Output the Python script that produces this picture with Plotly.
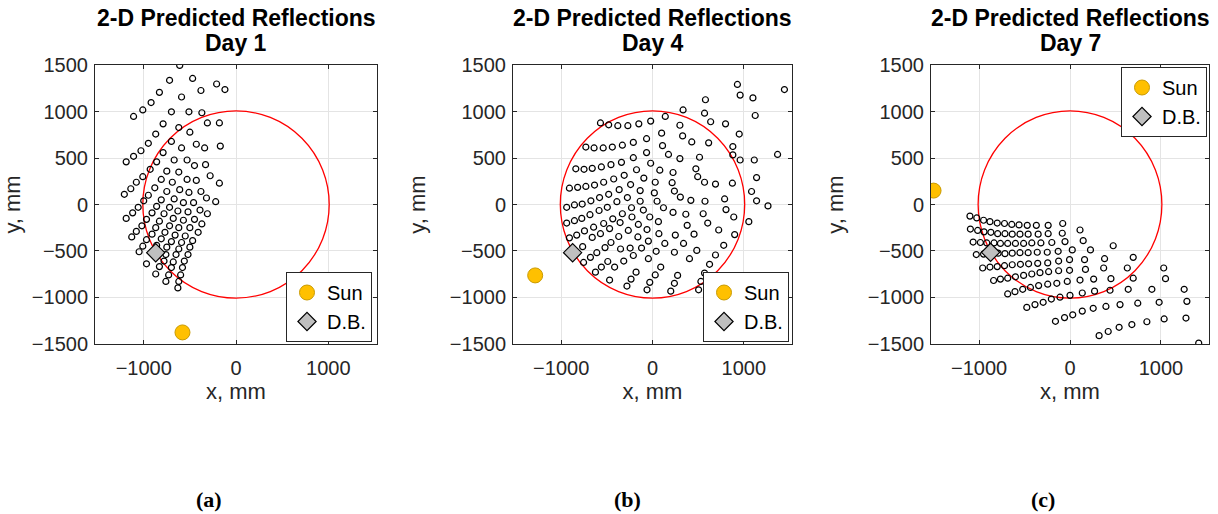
import plotly.graph_objects as go

# ---------------- data (mm) ----------------
PANEL_TITLES = ["Day 1", "Day 4", "Day 7"]
SUB_LABELS = ["(a)", "(b)", "(c)"]
DISH_RADIUS = 1010

SUN = [(-580, -1380), (-1285, -765), (-1500, 150)]
DB = [(-870, -520), (-875, -520), (-873, -516)]

DAY1_PTS = [
    (-610, 1500), (-720, 1340), (-470, 1360), (-210, 1300), (-120, 1240), (-830, 1210),
    (-380, 1230), (-590, 1160), (-920, 1100), (-1010, 1020), (-700, 1000), (-510, 1000),
    (-370, 990), (-1110, 950), (-790, 870), (-310, 880), (-180, 880), (-620, 830),
    (-870, 760), (-500, 780), (-700, 680), (-950, 660), (-430, 650), (-590, 610),
    (-340, 610), (-170, 630), (-1030, 580), (-790, 560), (-1110, 520), (-1190, 460),
    (-860, 460), (-670, 480), (-530, 480), (-450, 420), (-330, 430), (-930, 380),
    (-750, 360), (-620, 350), (-1010, 300), (-280, 310), (-1080, 240), (-810, 270),
    (-690, 240), (-530, 270), (-430, 260), (-180, 230), (-1140, 170), (-1210, 110),
    (-880, 180), (-950, 100), (-750, 140), (-610, 160), (-510, 130), (-380, 140),
    (-1000, 40), (-810, 50), (-670, 60), (-570, 20), (-460, 20), (-320, 70),
    (-220, 30), (-1060, -30), (-860, -20), (-720, -30), (-1120, -90), (-910, -90),
    (-780, -100), (-630, -70), (-520, -80), (-390, -60), (-310, -100), (-1190, -150),
    (-970, -160), (-680, -150), (-570, -170), (-450, -160), (-830, -180), (-1020, -230),
    (-870, -250), (-720, -230), (-620, -250), (-500, -250), (-370, -210), (-1080, -290),
    (-1130, -350), (-910, -320), (-770, -300), (-660, -330), (-550, -340), (-410, -300),
    (-970, -380), (-810, -370), (-700, -400), (-590, -410), (-470, -390), (-1010, -450),
    (-860, -440), (-750, -460), (-620, -480), (-500, -460), (-1050, -510), (-760, -540),
    (-650, -540), (-520, -540), (-970, -640), (-780, -610), (-680, -620), (-560, -610),
    (-830, -670), (-700, -680), (-580, -680), (-870, -750), (-730, -760), (-600, -760),
    (-760, -830), (-620, -830), (-630, -900),
]

DAY4_PTS = [
    (930, 1295), (1445, 1240), (960, 1180), (1100, 1150), (580, 1130), (1125, 960),
    (335, 1020), (570, 985), (140, 950), (637, 893), (800, 870),
    (-570, 880), (-480, 860), (-380, 850), (-270, 850), (-150, 870), (-20, 900),
    (300, 855), (100, 770), (950, 760), (330, 740), (430, 675), (615, 665),
    (-730, 620), (-640, 610), (-540, 610), (-440, 620), (-330, 640), (-210, 670), (-65, 710),
    (110, 635), (880, 625), (1370, 540), (175, 540), (300, 495), (515, 510), (880, 535),
    (960, 480), (1115, 480),
    (-840, 385), (-750, 380), (-660, 390), (-560, 405), (-455, 430), (-340, 455),
    (-210, 505), (-65, 560),
    (-20, 445), (80, 370), (225, 345), (475, 385), (495, 300), (570, 240), (690, 220),
    (875, 230), (1140, 290),
    (-910, 176), (-820, 185), (-730, 195), (-635, 210), (-535, 240), (-425, 275),
    (-310, 315), (-175, 375),
    (-95, 285), (-240, 215), (30, 240), (215, 235), (240, 145), (305, 80), (420, 45),
    (575, 35), (790, 60), (1085, 140), (1140, 40), (1265, -15),
    (-365, 160), (-135, 150), (20, 125), (-275, 75), (-480, 110), (-580, 75),
    (-675, 40), (-770, 5), (-855, -5), (-940, -30),
    (-135, 35), (50, 35), (120, -35), (225, -85), (365, -105), (555, -100), (805, -55),
    (-100, -60), (-230, -35), (-390, 30), (-495, -30), (-585, -65), (-685, -110),
    (-775, -150), (-855, -175), (-940, -200),
    (890, -135), (1055, -185), (-30, -135), (65, -185), (-330, -100), (-225, -135),
    (-435, -155), (-535, -205), (-645, -245), (-745, -285), (-830, -330), (-910, -360),
    (-155, -215), (-60, -270), (70, -315), (250, -330), (380, -225), (605, -200),
    (725, -275), (900, -325),
    (-355, -195), (-265, -280), (-470, -260), (-370, -345), (-570, -315), (-660, -355),
    (-765, -455),
    (-160, -350), (-45, -395), (135, -420), (340, -420), (455, -320), (485, -495),
    (690, -545), (780, -440),
    (-455, -410), (-350, -480), (-520, -465), (-610, -520), (-680, -570), (-755, -625),
    (-120, -470), (-245, -470), (40, -505), (240, -515), (405, -585), (625, -645),
    (-210, -550), (-315, -610), (-415, -675), (-625, -730), (-45, -585), (90, -675),
    (275, -765), (570, -740), (-560, -675), (-490, -615),
    (-180, -730), (-235, -805), (-280, -880), (-470, -815), (30, -760), (-30, -840),
    (-60, -920), (240, -850), (200, -935), (530, -830), (505, -920),
]

DAY7_PTS = [
    (-1100, -125), (-1025, -145), (-950, -170), (-880, -185), (-800, -200), (-720, -205),
    (-640, -215), (-560, -220), (-470, -225), (-370, -225), (-240, -225), (-80, -205),
    (-1095, -265), (-1015, -280), (-945, -295), (-870, -300), (-795, -315), (-715, -315),
    (-635, -320), (-550, -320), (-460, -320), (-350, -320), (-240, -315), (-85, -310),
    (110, -275),
    (-1065, -405), (-985, -410), (-915, -415), (-835, -415), (-765, -420), (-685, -420),
    (-600, -420), (-510, -420), (-420, -415), (-320, -415), (-200, -410), (-55, -400),
    (145, -390),
    (-1030, -540), (-950, -535), (-870, -530), (-790, -525), (-715, -530), (-635, -525),
    (-550, -520), (-460, -520), (-360, -515), (-250, -515), (-130, -505), (25, -490),
    (225, -490), (475, -445),
    (-960, -685), (-880, -675), (-800, -670), (-720, -660), (-635, -650), (-545, -645),
    (-455, -640), (-355, -635), (-245, -630), (-125, -610), (-5, -595), (160, -595),
    (380, -585), (695, -570),
    (-840, -820), (-765, -805), (-685, -795), (-600, -780), (-510, -765), (-420, -750),
    (-330, -735), (-235, -725), (-125, -715), (-5, -710), (170, -700), (370, -685),
    (630, -685), (1030, -685),
    (-685, -965), (-605, -940), (-520, -915), (-435, -895), (-345, -875), (-245, -860),
    (-145, -850), (-30, -830), (110, -815), (260, -805), (450, -800), (695, -795),
    (1050, -800),
    (-475, -1110), (-385, -1080), (-295, -1055), (-205, -1020), (-110, -1000), (0, -980),
    (135, -955), (270, -935), (440, -925), (640, -915), (900, -915), (1255, -915),
    (-160, -1260), (-60, -1220), (30, -1190), (135, -1150), (255, -1120), (395, -1100),
    (550, -1080), (745, -1065), (980, -1055), (1285, -1045),
    (320, -1415), (420, -1370), (540, -1325), (680, -1295), (845, -1265), (1035, -1235),
    (1275, -1225),
    (1415, -1495),
]

X_TICKS = [-1000, 0, 1000]
Y_TICKS = [-1500, -1000, -500, 0, 500, 1000, 1500]
X_RANGE = [-1528, 1528]
Y_RANGE = [-1505, 1505]

# ---------------- layout helpers ----------------
W, H = 1218, 514
AX_X_PX = [(95, 377), (513, 792), (931, 1209)]
AX_Y_PX = (65, 344)
TITLE_CX = [236, 652.5, 1070]
SUB_CX = [209, 627, 1043]

def px_x(p):
    return p / W

def px_y(p):
    return 1 - p / H

FONT = "Liberation Sans, Arial, Helvetica, sans-serif"
AX_COLOR = "#262626"

fig = go.Figure()
all_pts = [DAY1_PTS, DAY4_PTS, DAY7_PTS]
legend_names = ["legend", "legend2", "legend3"]

for i in range(3):
    xa = "x" if i == 0 else f"x{i+1}"
    ya = "y" if i == 0 else f"y{i+1}"
    pts = all_pts[i]
    fig.add_trace(go.Scatter(
        x=[p[0] for p in pts], y=[p[1] for p in pts], mode="markers",
        xaxis=xa, yaxis=ya, showlegend=False, hoverinfo="skip",
        marker=dict(symbol="circle-open", size=6, color="black", line=dict(width=1.2)),
    ))
    fig.add_trace(go.Scatter(
        x=[SUN[i][0]], y=[SUN[i][1]], mode="markers", name="Sun",
        xaxis=xa, yaxis=ya, legend=legend_names[i],
        marker=dict(symbol="circle", size=15, color="#FFC000",
                    line=dict(color="#C99A00", width=1)),
    ))
    fig.add_trace(go.Scatter(
        x=[DB[i][0]], y=[DB[i][1]], mode="markers", name="D.B.",
        xaxis=xa, yaxis=ya, legend=legend_names[i],
        marker=dict(symbol="diamond", size=14, color="#BFBFBF",
                    line=dict(color="black", width=1.2)),
    ))
    fig.add_shape(type="circle", xref=xa, yref=ya,
                  x0=-DISH_RADIUS, x1=DISH_RADIUS, y0=-DISH_RADIUS, y1=DISH_RADIUS,
                  line=dict(color="#FF0000", width=1.3), layer="between")

    common = dict(showgrid=True, gridcolor="#E4E4E4", gridwidth=1, zeroline=False,
                  showline=True, linecolor=AX_COLOR, linewidth=1, mirror="ticks",
                  ticks="inside", ticklen=4, tickcolor=AX_COLOR, tickwidth=1,
                  automargin=False,
                  tickfont=dict(family=FONT, size=20, color=AX_COLOR))
    x0, x1 = AX_X_PX[i]
    xkey = "xaxis" if i == 0 else f"xaxis{i+1}"
    ykey = "yaxis" if i == 0 else f"yaxis{i+1}"
    fig.update_layout(**{
        xkey: dict(common, domain=[px_x(x0), px_x(x1)], range=X_RANGE,
                   tickvals=X_TICKS, anchor=ya, ticklabelstandoff=6,
                   title=dict(text="x, mm", font=dict(family=FONT, size=22, color=AX_COLOR),
                              standoff=4)),
        ykey: dict(common, domain=[px_y(AX_Y_PX[1]), px_y(AX_Y_PX[0])], range=Y_RANGE,
                   tickvals=Y_TICKS, anchor=xa, ticklabelstandoff=2,
                   title=dict(text="y, mm", font=dict(family=FONT, size=22, color=AX_COLOR),
                              standoff=18)),
    })

    fig.add_annotation(text="<b>2-D Predicted Reflections</b>", xref="paper", yref="paper",
                       x=px_x(TITLE_CX[i]), y=px_y(18), xanchor="center", yanchor="middle",
                       showarrow=False, font=dict(family=FONT, size=23, color="black"))
    fig.add_annotation(text=f"<b>{PANEL_TITLES[i]}</b>", xref="paper", yref="paper",
                       x=px_x(TITLE_CX[i]), y=px_y(43), xanchor="center", yanchor="middle",
                       showarrow=False, font=dict(family=FONT, size=23, color="black"))
    fig.add_annotation(text=f"<b>{SUB_LABELS[i]}</b>", xref="paper", yref="paper",
                       x=px_x(SUB_CX[i]), y=px_y(499), xanchor="center", yanchor="middle",
                       showarrow=False,
                       font=dict(family="Liberation Serif, Times New Roman, serif", size=22,
                                 color="black"))

leg_common = dict(bgcolor="white", bordercolor=AX_COLOR, borderwidth=1,
                  font=dict(family=FONT, size=20, color="black"), itemwidth=30,
                  tracegroupgap=0)
fig.update_layout(
    width=W, height=H, autosize=False,
    margin=dict(l=0, r=0, t=0, b=0, pad=0, autoexpand=False),
    paper_bgcolor="white", plot_bgcolor="white",
    legend=dict(leg_common, x=px_x(372), y=px_y(342), xanchor="right", yanchor="bottom"),
    legend2=dict(leg_common, x=px_x(789), y=px_y(342), xanchor="right", yanchor="bottom"),
    legend3=dict(leg_common, x=px_x(1207), y=px_y(67), xanchor="right", yanchor="top"),
)

# remove the default 8 px page margin so the figure sits at the window's corner
fig.write_html("out.html", config={"displayModeBar": False},
               post_script="document.body.style.margin='0px';")
